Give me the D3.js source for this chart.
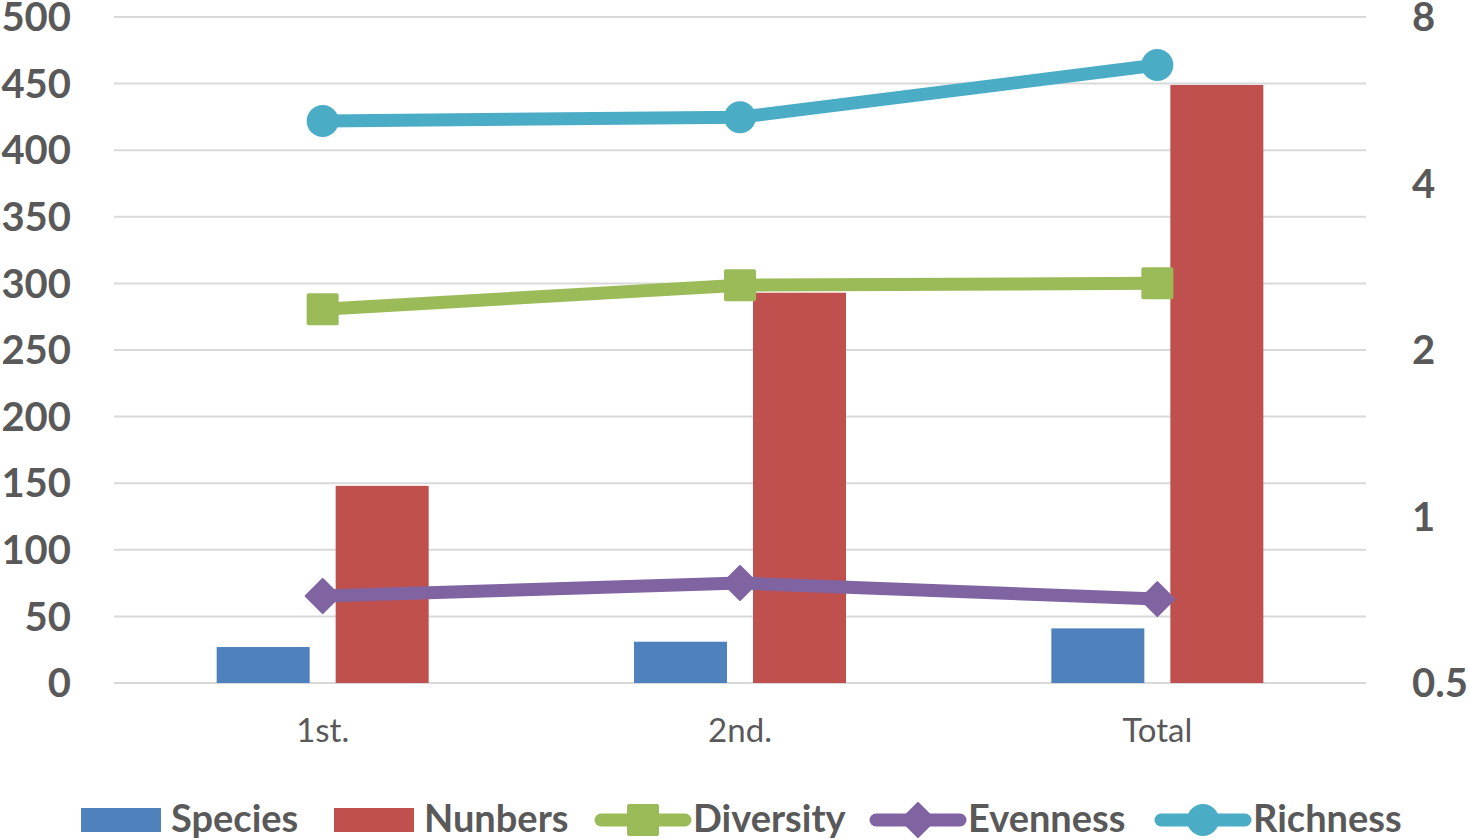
<!DOCTYPE html>
<html><head><meta charset="utf-8">
<script src="https://cdn.jsdelivr.net/npm/d3@7"></script>
<style>body{margin:0;background:#fff}svg{display:block}</style>
</head><body>
<svg id="c" width="1469" height="840"></svg>
<script>
const categories = ["1st.", "2nd.", "Total"];
const species = [27, 31, 41];
const numbers = [148, 293, 449];
const diversity = [2.37, 2.62, 2.64];
const evenness = [0.718, 0.758, 0.709];
const richness = [5.19, 5.27, 6.55];
const leftTicks = [0,50,100,150,200,250,300,350,400,450,500];
const rightTicks = [0.5,1,2,4,8];

const svg = d3.select("#c");
const L = 114, R = 1366, T = 17, B = 683;
const font = "Lato, 'Open Sans', sans-serif";
const x = d3.scaleBand().domain(categories).range([L, R]);
const yL = d3.scaleLinear().domain([0, 500]).range([B, T]);
const yR = d3.scaleLog().base(2).domain([0.5, 8]).range([B, T]);

// gridlines
svg.append("g").selectAll("line").data(leftTicks).join("line")
  .attr("x1", L).attr("x2", R).attr("y1", d => yL(d)).attr("y2", d => yL(d))
  .attr("stroke", "#d9d9d9").attr("stroke-width", 2);

// left axis
const gl = svg.append("g").attr("transform", `translate(${L},0)`)
  .call(d3.axisLeft(yL).tickValues(leftTicks).tickSize(0).tickPadding(43));
gl.select(".domain").remove();
gl.selectAll("text").attr("font-family", font).attr("font-weight", "bold")
  .attr("font-size", 40).attr("fill", "#595959").attr("dy", "0.34em");

// right axis
const gr = svg.append("g").attr("transform", `translate(${R},0)`)
  .call(d3.axisRight(yR).tickValues(rightTicks).tickFormat(d => String(d)).tickSize(0).tickPadding(46));
gr.select(".domain").remove();
gr.selectAll("text").attr("font-family", font).attr("font-weight", "bold")
  .attr("font-size", 40).attr("fill", "#595959").attr("dy", "0.34em");

// x axis
const gx = svg.append("g").attr("transform", `translate(0,${B})`)
  .call(d3.axisBottom(x).tickSize(0).tickPadding(36));
gx.select(".domain").remove();
gx.selectAll("text").attr("font-family", font).attr("font-size", 33).attr("fill", "#595959");

// bars
const bw = 93, gap = 26;
const xs = d3.scaleBand().domain(["s","n"]).range([-(bw + gap/2), bw + gap/2]).paddingInner(gap/(bw+gap));
svg.append("g").selectAll("rect").data(species).join("rect")
  .attr("x", (d,i) => x(categories[i]) + x.bandwidth()/2 + xs("s"))
  .attr("width", xs.bandwidth()).attr("y", d => yL(d)).attr("height", d => B - yL(d))
  .attr("fill", "#4f81bd");
svg.append("g").selectAll("rect").data(numbers).join("rect")
  .attr("x", (d,i) => x(categories[i]) + x.bandwidth()/2 + xs("n"))
  .attr("width", xs.bandwidth()).attr("y", d => yL(d)).attr("height", d => B - yL(d))
  .attr("fill", "#c0504d");

const cx = i => x(categories[i]) + x.bandwidth()/2;
function series(vals, color, marker) {
  const line = d3.line().x((d,i) => cx(i)).y(d => yR(d));
  svg.append("path").datum(vals).attr("d", line).attr("fill", "none")
    .attr("stroke", color).attr("stroke-width", 13).attr("stroke-linejoin", "round").attr("stroke-linecap", "round");
  const g = svg.append("g");
  vals.forEach((v, i) => drawMarker(g, marker, cx(i), yR(v), color));
}
function drawMarker(g, marker, px, py, color) {
  if (marker === "square") {
    g.append("rect").attr("x", px - 16).attr("y", py - 16).attr("width", 32).attr("height", 32)
      .attr("rx", 2).attr("fill", color);
  } else if (marker === "diamond") {
    g.append("path").attr("d", `M${px},${py-17}L${px+17},${py}L${px},${py+17}L${px-17},${py}Z`)
      .attr("fill", color).attr("stroke", color).attr("stroke-width", 2).attr("stroke-linejoin", "round");
  } else {
    g.append("circle").attr("cx", px).attr("cy", py).attr("r", 16).attr("fill", color);
  }
}
series(diversity, "#9bbb59", "square");
series(evenness, "#8064a2", "diamond");
series(richness, "#4bacc6", "circle");

// legend
const leg = svg.append("g");
const ly = 820;
const legendItems = [
  {name: "Species", color: "#4f81bd", type: "rect", x: 81},
  {name: "Nunbers", color: "#c0504d", type: "rect", x: 334},
  {name: "Diversity", color: "#9bbb59", type: "square", x: 596},
  {name: "Evenness", color: "#8064a2", type: "diamond", x: 871},
  {name: "Richness", color: "#4bacc6", type: "circle", x: 1156}
];
legendItems.forEach(it => {
  let tx;
  if (it.type === "rect") {
    leg.append("rect").attr("x", it.x).attr("y", ly - 12).attr("width", 80).attr("height", 24).attr("fill", it.color);
    tx = it.x + 90;
  } else {
    leg.append("line").attr("x1", it.x + 5).attr("x2", it.x + 89).attr("y1", ly).attr("y2", ly)
      .attr("stroke", it.color).attr("stroke-width", 13).attr("stroke-linecap", "round");
    drawMarker(leg, it.type, it.x + 47, ly, it.color);
    tx = it.x + 97;
  }
  leg.append("text").attr("x", tx).attr("y", ly + 12).text(it.name)
    .attr("font-family", font).attr("font-weight", "bold").attr("font-size", 38).attr("fill", "#595959");
});
</script>
</body></html>
